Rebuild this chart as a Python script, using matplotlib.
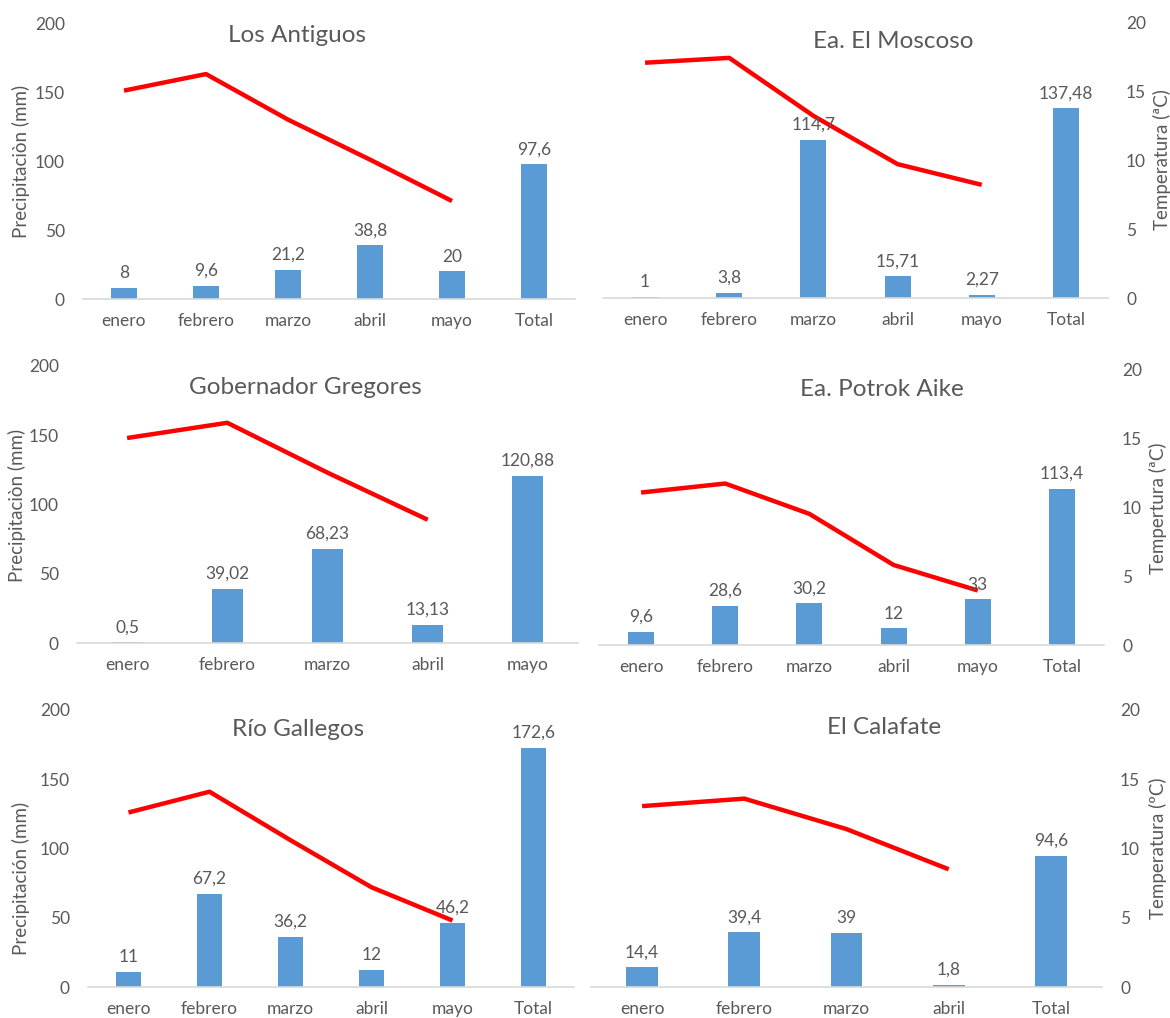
import matplotlib.pyplot as plt
import numpy as np

plt.rcParams['font.family'] = ['Lato', 'DejaVu Sans']

# station names
titles = ["Los Antiguos", "Ea. El Moscoso", "Gobernador Gregores",
          "Ea. Potrok Aike", "Río Gallegos", "El Calafate"]

# categories per panel
cats_1 = ["enero", "febrero", "marzo", "abril", "mayo", "Total"]
cats_2 = ["enero", "febrero", "marzo", "abril", "mayo", "Total"]
cats_3 = ["enero", "febrero", "marzo", "abril", "mayo"]
cats_4 = ["enero", "febrero", "marzo", "abril", "mayo", "Total"]
cats_5 = ["enero", "febrero", "marzo", "abril", "mayo", "Total"]
cats_6 = ["enero", "febrero", "marzo", "abril", "Total"]

# precipitation (mm)
prec_1 = [8, 9.6, 21.2, 38.8, 20, 97.6]
prec_2 = [1, 3.8, 114.7, 15.71, 2.27, 137.48]
prec_3 = [0.5, 39.02, 68.23, 13.13, 120.88]
prec_4 = [9.6, 28.6, 30.2, 12, 33, 113.4]
prec_5 = [11, 67.2, 36.2, 12, 46.2, 172.6]
prec_6 = [14.4, 39.4, 39, 1.8, 94.6]

# temperature (C)
temp_1 = [15.1, 16.3, 13.0, 10.1, 7.1]
temp_2 = [17.05, 17.4, 13.2, 9.7, 8.2]
temp_3 = [14.8, 15.9, 12.3, 8.9]
temp_4 = [11.05, 11.7, 9.5, 5.8, 3.95]
temp_5 = [12.6, 14.1, 10.6, 7.2, 4.8]
temp_6 = [13.06, 13.6, 11.4, 8.5]

left_labels = ["Precipitaciòn (mm)", "Precipitaciòn (mm)", "Precipitación (mm)"]
right_labels = ["Temperatura (ªC)", "Tempertura (ªC)", "Temperatura (ºC)"]

W, H = 1170, 1018
TXT = '#595959'
BAR = '#5B9BD5'

fig = plt.figure(figsize=(W / 100, H / 100), dpi=100)

# pixel boxes (x0, x1, ytop, ybottom) for each panel
boxes = [(83, 575, 23, 299), (603, 1108, 22, 298),
         (77, 578, 366, 643), (599, 1104, 369, 645),
         (88, 574, 710, 987), (591, 1102, 710, 987)]
title_pos = [(297, 36), (893, 41), (305, 387), (882, 390), (298, 730), (884, 728)]
lab_left = [(21, 161), (17, 505), (21, 878)]
lab_right = [(1162, 160), (1158, 508), (1158, 848)]

all_cats = [cats_1, cats_2, cats_3, cats_4, cats_5, cats_6]
all_prec = [prec_1, prec_2, prec_3, prec_4, prec_5, prec_6]
all_temp = [temp_1, temp_2, temp_3, temp_4, temp_5, temp_6]

for i in range(6):
    x0, x1, yt, yb = boxes[i]
    ax = fig.add_axes([x0 / W, 1 - yb / H, (x1 - x0) / W, (yb - yt) / H])
    ax2 = ax.twinx()
    cats = all_cats[i]
    prec = all_prec[i]
    temp = all_temp[i]
    x = np.arange(len(cats))

    ax.bar(x, prec, width=0.31, color=BAR, zorder=2)
    for xi, v in zip(x, prec):
        ax.text(xi, v + 5, str(v).replace('.', ','), ha='center', va='bottom',
                fontsize=12.5, color=TXT, zorder=5)
    ax2.plot(np.arange(len(temp)), temp, color='#FF0000', lw=3.2,
             solid_capstyle='butt', solid_joinstyle='round', zorder=3)

    ax.set_xlim(-0.5, len(cats) - 0.5)
    ax.set_ylim(0, 200)
    ax2.set_ylim(0, 20)
    ax.set_xticks(x)
    ax.set_xticklabels(cats)
    ax.set_yticks([0, 50, 100, 150, 200])
    ax2.set_yticks([0, 5, 10, 15, 20])
    ax.tick_params(axis='x', length=0, pad=10, labelsize=12.5, labelcolor=TXT)
    ax.tick_params(axis='y', length=0, pad=13, labelsize=12.5, labelcolor=TXT)
    ax2.tick_params(axis='y', length=0, pad=13, labelsize=12.5, labelcolor=TXT)
    for a in (ax, ax2):
        for s in ['top', 'left', 'right', 'bottom']:
            a.spines[s].set_visible(False)
    ax.spines['bottom'].set_visible(True)
    ax.spines['bottom'].set_color('#D9D9D9')
    ax.spines['bottom'].set_linewidth(1.2)
    ax.set_zorder(ax2.get_zorder() + 1)
    ax.patch.set_visible(False)

    if i % 2 == 0:
        ax2.set_yticks([])
        lx, ly = lab_left[i // 2]
        fig.text(lx / W, 1 - ly / H, left_labels[i // 2], rotation=90,
                 ha='center', va='center', fontsize=13.5, color=TXT)
    else:
        ax.set_yticks([])
        rx, ry = lab_right[i // 2]
        fig.text(rx / W, 1 - ry / H, right_labels[i // 2], rotation=90,
                 ha='center', va='center', fontsize=13.5, color=TXT)

    tx, ty = title_pos[i]
    fig.text(tx / W, 1 - ty / H, titles[i], ha='center', va='center',
             fontsize=17.5, color=TXT)

fig.savefig("out.png", dpi=100)
